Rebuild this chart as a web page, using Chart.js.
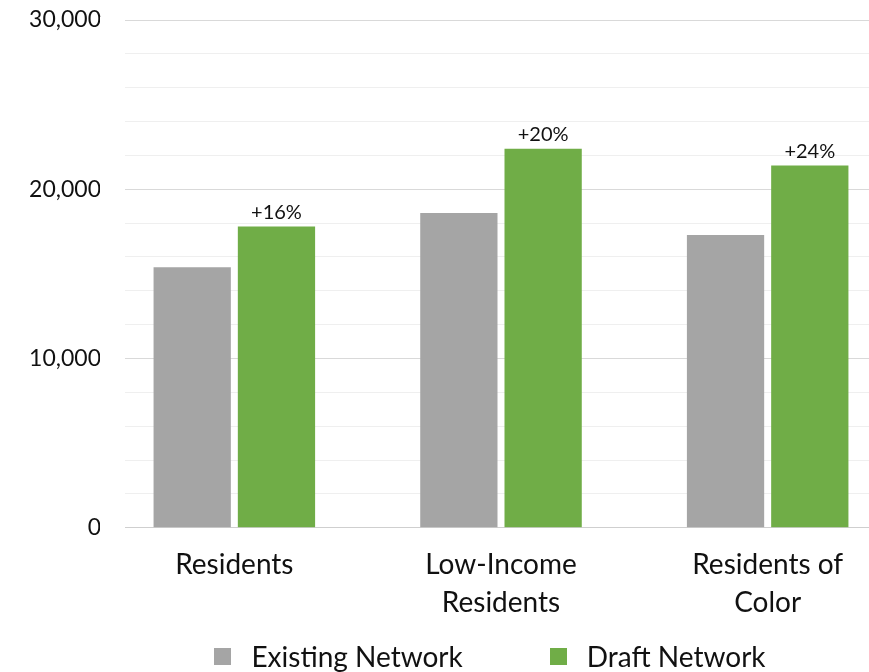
<!DOCTYPE html>
<html>
<head>
<meta charset="utf-8">
<script src="https://cdn.jsdelivr.net/npm/chart.js@4.4.1/dist/chart.umd.min.js"></script>
<style>
  html, body { margin: 0; padding: 0; background: #fff; width: 869px; height: 672px; overflow: hidden; }
  #wrap { position: absolute; left: 0; top: 0; width: 980px; height: 672px; }
  #legend { position: absolute; left: 0; top: 639px; width: 980px; display: flex; justify-content: center; align-items: center;
            font-family: Lato, "Open Sans", sans-serif; font-size: 28px; color: #111; }
  .item { display: flex; align-items: center; }
  .item + .item { margin-left: 87px; }
  .sw { width: 17px; height: 17px; margin-right: 20px; }
</style>
</head>
<body>
<div id="wrap"><canvas id="c"></canvas></div>
<div id="legend"></div>
<script>
const categories = [["Residents"], ["Low-Income", "Residents"], ["Residents of", "Color"]];
const existingNetwork = [15400, 18600, 17300];
const draftNetwork = [17800, 22400, 21400];
const changeLabels = ["+16%", "+20%", "+24%"];
const seriesNames = ["Existing Network", "Draft Network"];
const seriesColors = ["#a5a5a5", "#70ad47"];
const yMax = 30000;
const yStep = 2000;
const yLabelStep = 10000;

const FONT = 'Lato, "Open Sans", sans-serif';

const gridClip = {
  id: 'gridClip',
  beforeDatasetsDraw(chart) {
    const { ctx, chartArea } = chart;
    ctx.save();
    ctx.fillStyle = '#ffffff';
    ctx.fillRect(chartArea.left - 1, chartArea.top - 3, 25, chartArea.bottom - chartArea.top + 6);
    ctx.restore();
  }
};

const changeLabelPlugin = {
  id: 'changeLabels',
  afterDatasetsDraw(chart) {
    const { ctx } = chart;
    const meta = chart.getDatasetMeta(1);
    ctx.save();
    ctx.font = '20px ' + FONT;
    ctx.fillStyle = '#111';
    ctx.textAlign = 'center';
    ctx.textBaseline = 'alphabetic';
    meta.data.forEach((bar, i) => {
      ctx.fillText(changeLabels[i], bar.x, bar.y - 8);
    });
    ctx.restore();
  }
};

new Chart(document.getElementById('c'), {
  type: 'bar',
  data: {
    labels: categories,
    datasets: [
      { label: seriesNames[0], data: existingNetwork, backgroundColor: seriesColors[0] },
      { label: seriesNames[1], data: draftNetwork, backgroundColor: seriesColors[1] }
    ]
  },
  options: {
    responsive: true,
    maintainAspectRatio: false,
    animation: false,
    devicePixelRatio: 1,
    layout: { padding: { left: 0, right: 79, top: 20, bottom: 40 } },
    datasets: { bar: { categoryPercentage: 0.632, barPercentage: 0.917 } },
    plugins: { legend: { display: false }, tooltip: { enabled: false } },
    scales: {
      x: {
        grid: { display: false },
        border: { display: false },
        ticks: {
          color: '#111',
          padding: 10,
          font: { family: FONT, size: 28, lineHeight: 1.36 },
          maxRotation: 0, autoSkip: false
        }
      },
      y: {
        min: 0, max: yMax,
        afterFit(scale) { scale.width = 101; },
        border: { display: false },
        grid: {
          drawTicks: false,
          lineWidth: 1,
          color: (c) => c.tick.value === 0 ? '#cfcfcf' : (c.tick.value % yLabelStep === 0 ? '#d9d9d9' : '#efefef')
        },
        ticks: {
          stepSize: yStep,
          autoSkip: false,
          padding: 0,
          color: '#111',
          font: { family: FONT, size: 23 },
          callback: (v) => v % yLabelStep === 0 ? v.toLocaleString('en-US') : ''
        }
      }
    }
  },
  plugins: [gridClip, changeLabelPlugin]
});

const legend = document.getElementById('legend');
seriesNames.forEach((name, i) => {
  const it = document.createElement('div');
  it.className = 'item';
  const sw = document.createElement('div');
  sw.className = 'sw';
  sw.style.background = seriesColors[i];
  const t = document.createElement('span');
  t.textContent = name;
  it.appendChild(sw); it.appendChild(t);
  legend.appendChild(it);
});
</script>
</body>
</html>
